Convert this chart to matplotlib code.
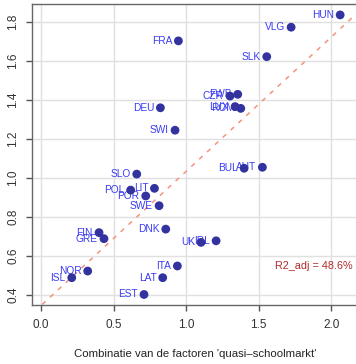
import numpy as np
import matplotlib.pyplot as plt

### data
countries = ['HUN', 'VLG', 'FRA', 'SLK', 'CZR', 'FWB', 'LUX', 'ROM', 'DEU', 'SWI',
             'SLO', 'BUL', 'AUT', 'POL', 'LIT', 'POR', 'SWE', 'DNK', 'FIN', 'GRE',
             'NOR', 'ISL', 'ITA', 'LAT', 'EST', 'UK', 'IRL']
x_vals = [2.062, 1.724, 0.947, 1.556, 1.303, 1.356, 1.338, 1.377, 0.823, 0.924,
          0.660, 1.400, 1.526, 0.618, 0.782, 0.722, 0.814, 0.860, 0.400, 0.434,
          0.322, 0.212, 0.940, 0.839, 0.710, 1.103, 1.207]
y_vals = [1.836, 1.773, 1.703, 1.622, 1.420, 1.429, 1.366, 1.357, 1.360, 1.245,
          1.020, 1.050, 1.055, 0.938, 0.947, 0.908, 0.858, 0.738, 0.720, 0.689,
          0.523, 0.489, 0.549, 0.489, 0.403, 0.670, 0.678]

# fitted line
intercept = 0.346
slope = 0.688
r2_text = 'R2_adj = 48.6%'

xticks = [0.0, 0.5, 1.0, 1.5, 2.0]
yticks = [0.4, 0.6, 0.8, 1.0, 1.2, 1.4, 1.6, 1.8]

plt.rcParams['font.family'] = ['Liberation Sans', 'DejaVu Sans']

fig = plt.figure(figsize=(3.56, 3.64), dpi=100)
ax = fig.add_axes([32/356, 1-305/364, (358-32)/356, (305-4)/364])

### grid
for t in xticks:
    ax.axvline(t, color='#e0e0e0', linewidth=1.0, zorder=0)
for t in yticks:
    ax.axhline(t, color='#e0e0e0', linewidth=1.0, zorder=0)

### regression line
lx = np.array([-0.1, 2.3])
ax.plot(lx, intercept + slope*lx, color='#f4937c', linestyle=(0, (3, 4)), linewidth=1.1, zorder=1)

### points and labels
ax.scatter(x_vals, y_vals, s=40, color='#33339f', edgecolors='none', zorder=3)
for name, xv, yv in zip(countries, x_vals, y_vals):
    ax.annotate(name, (xv, yv), xytext=(-4.5, 0), textcoords='offset points',
                ha='right', va='center', fontsize=7.3, color='#3b3bf5', zorder=2)

ax.text(2.15, 0.549, r2_text, ha='right', va='center', fontsize=7.8, color='#b22a2a')

### axes
ax.set_xlim(-0.062, 2.185)
ax.set_ylim(0.349, 1.892)
ax.set_xticks(xticks)
ax.set_xticklabels(['0.0', '0.5', '1.0', '1.5', '2.0'])
ax.set_yticks(yticks)
ax.set_yticklabels(['0.4', '0.6', '0.8', '1.0', '1.2', '1.4', '1.6', '1.8'], rotation=90, va='center')
ax.tick_params(direction='out', length=4, width=1, color='#555555', labelsize=8.5,
               labelcolor='#333333')
ax.tick_params(axis='x', pad=6)
ax.tick_params(axis='y', pad=5)
for side in ['left', 'bottom', 'top', 'right']:
    ax.spines[side].set_color('#666666')
    ax.spines[side].set_linewidth(1.0)

ax.set_xlabel("Combinatie van de factoren 'quasi\u2013schoolmarkt'", fontsize=8.2, color='#222222', labelpad=13)

plt.savefig('out.png', dpi=100)
plt.close(fig)
